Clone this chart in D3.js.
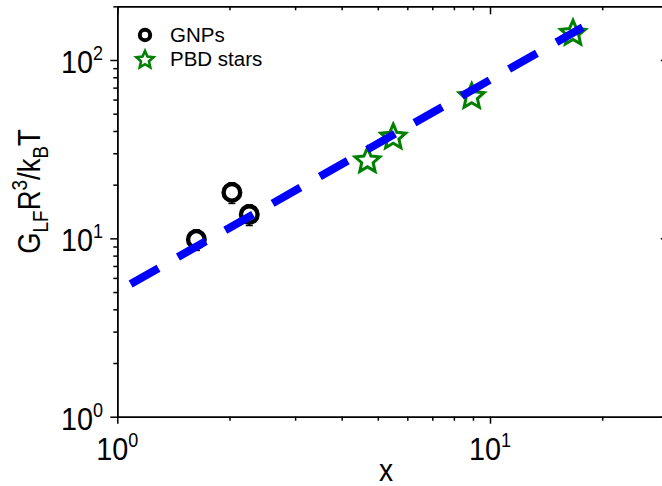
<!DOCTYPE html>
<html>
<head>
<meta charset="utf-8">
<script src="https://cdn.jsdelivr.net/npm/d3@7"></script>
<style>
  body { margin: 0; background: #fff; }
  text { font-family: "Liberation Sans", Arial, sans-serif; fill: #000; }
</style>
</head>
<body>
<div class="chart"></div>
<script>
// Data
var gnpX = [1.63, 2.03, 2.26];
var gnpY = [9.86, 18.1, 13.6];
var gnpErr = [1.3, 2.4, 1.8];

var starX = [4.69, 5.50, 8.93, 16.7];
var starY = [27.2, 36.9, 62.3, 141];

// dashed fit line, two end points
var fitX = [1.086, 17.73];
var fitY = [5.55, 152.6];

var xDomain = [1, 30];
var yDomain = [1, 200];
var xMajor = [1, 10];
var xMinor = [2, 3, 4, 5, 6, 7, 8, 9, 20, 30];
var yMajor = [1, 10, 100];
var yMinor = [2, 3, 4, 5, 6, 7, 8, 9, 20, 30, 40, 50, 60, 70, 80, 90, 200];
var xTickExp = ["0", "1"];
var yTickExp = ["0", "1", "2"];
var legendLabels = ["GNPs", "PBD stars"];

var svgWidth = 662;
var svgHeight = 486;

var svg = d3.select(".chart")
  .append("svg")
  .attr("width", svgWidth)
  .attr("height", svgHeight);

// Step 1: scales (one decade = 372.7px on x, 178.35px on y)
var xLogScale = d3.scaleLog()
  .domain(xDomain)
  .range([117.3, 117.3 + 372.7 * Math.log10(xDomain[1])]);

var yLogScale = d3.scaleLog()
  .domain(yDomain)
  .range([416.7, 416.7 - 178.35 * Math.log10(yDomain[1])]);

var x0 = xLogScale.range()[0], x1 = xLogScale.range()[1];
var y0 = yLogScale.range()[0], y1 = yLogScale.range()[1];

// Step 2: axes, major and minor ticks on all four sides
function addAxis(axis, transform) {
  var g = svg.append("g")
    .attr("transform", transform)
    .call(axis);
  g.selectAll("path, line").attr("stroke", "#000").attr("stroke-width", 1.5);
  g.selectAll("text").remove();
  return g;
}
var noLabel = function() { return ""; };

addAxis(d3.axisBottom(xLogScale).tickValues(xMajor).tickSizeInner(7).tickSizeOuter(0).tickFormat(noLabel), `translate(0, ${y0})`);
addAxis(d3.axisBottom(xLogScale).tickValues(xMinor).tickSizeInner(4).tickSizeOuter(0).tickFormat(noLabel), `translate(0, ${y0})`);
addAxis(d3.axisTop(xLogScale).tickValues(xMajor).tickSizeInner(-8).tickSizeOuter(0).tickFormat(noLabel), `translate(0, ${y1})`);
addAxis(d3.axisTop(xLogScale).tickValues(xMinor).tickSizeInner(-4).tickSizeOuter(0).tickFormat(noLabel), `translate(0, ${y1})`);
addAxis(d3.axisLeft(yLogScale).tickValues(yMajor).tickSizeInner(7).tickSizeOuter(0).tickFormat(noLabel), `translate(${x0}, 0)`);
addAxis(d3.axisLeft(yLogScale).tickValues(yMinor).tickSizeInner(4).tickSizeOuter(0).tickFormat(noLabel), `translate(${x0}, 0)`);
addAxis(d3.axisRight(yLogScale).tickValues(yMajor).tickSizeInner(-7).tickSizeOuter(0).tickFormat(noLabel), `translate(${x1}, 0)`);
addAxis(d3.axisRight(yLogScale).tickValues(yMinor).tickSizeInner(-4).tickSizeOuter(0).tickFormat(noLabel), `translate(${x1}, 0)`);

// tick labels 10^n (font is a narrow sans, so squeeze it a bit)
function powerLabel(xPos, yPos, anchor, exp) {
  var t = svg.append("g")
    .attr("transform", `translate(${xPos}, ${yPos}) scale(0.9, 1)`)
    .append("text")
    .attr("text-anchor", anchor)
    .style("font-size", "32px");
  t.append("tspan").text("10");
  t.append("tspan").attr("dy", -13).style("font-size", "20px").text(exp);
}
xMajor.forEach(function(v, i) { powerLabel(xLogScale(v), y0 + 43.3, "middle", xTickExp[i]); });
yMajor.forEach(function(v, i) { powerLabel(103, yLogScale(v) + 12.8, "end", yTickExp[i]); });

// Step 3: axis titles
var yTitle = svg.append("g")
  .attr("transform", "translate(40, 191.5) rotate(-90) scale(0.86, 1)")
  .append("text")
  .attr("text-anchor", "middle")
  .style("font-size", "32px");
yTitle.append("tspan").text("G");
yTitle.append("tspan").attr("dy", 8).style("font-size", "22px").text("LF");
yTitle.append("tspan").attr("dy", -8).text("R");
yTitle.append("tspan").attr("dy", -13).style("font-size", "22px").text("3");
yTitle.append("tspan").attr("dy", 13).text("/k");
yTitle.append("tspan").attr("dy", 8).style("font-size", "22px").text("B");
yTitle.append("tspan").attr("dy", -8).text("T");

svg.append("g")
  .attr("transform", `translate(386, 481) scale(0.88, 1)`)
  .append("text")
  .attr("text-anchor", "middle")
  .style("font-size", "32px")
  .text("x");

// Step 4: GNPs with error bars
var gnpData = gnpX.map(function(d, i) { return {x: d, y: gnpY[i], e: gnpErr[i]}; });

var errGroup = svg.append("g").attr("stroke", "#000").attr("stroke-width", 1.5);
gnpData.forEach(function(d) {
  var cx = xLogScale(d.x);
  var top = yLogScale(d.y + d.e), bot = yLogScale(d.y - d.e);
  errGroup.append("line").attr("x1", cx).attr("x2", cx).attr("y1", top).attr("y2", bot);
  errGroup.append("line").attr("x1", cx - 3.5).attr("x2", cx + 3.5).attr("y1", top).attr("y2", top);
  errGroup.append("line").attr("x1", cx - 3.5).attr("x2", cx + 3.5).attr("y1", bot).attr("y2", bot);
});

svg.append("g").selectAll("circle")
  .data(gnpData)
  .enter()
  .append("circle")
  .attr("cx", d => xLogScale(d.x))
  .attr("cy", d => yLogScale(d.y))
  .attr("r", 8.3)
  .attr("fill", "#fff")
  .attr("stroke", "#000")
  .attr("stroke-width", 4.4);

// Step 5: PBD stars
function starPath(R, r) {
  var pts = [];
  for (var i = 0; i < 10; i++) {
    var a = (-90 + i * 36) * Math.PI / 180;
    var rad = i % 2 ? r : R;
    pts.push([rad * Math.cos(a), rad * Math.sin(a)]);
  }
  return "M" + pts.join("L") + "Z";
}

var starData = starX.map(function(d, i) { return {x: d, y: starY[i]}; });

svg.append("g").selectAll("path")
  .data(starData)
  .enter()
  .append("path")
  .attr("d", starPath(13, 6))
  .attr("transform", d => `translate(${xLogScale(d.x)}, ${yLogScale(d.y)})`)
  .attr("fill", "#fff")
  .attr("stroke", "#008000")
  .attr("stroke-width", 3);

// Step 6: dashed blue fit line on top
var fitLine = d3.line()
  .x(d => xLogScale(d[0]))
  .y(d => yLogScale(d[1]));

svg.append("path")
  .datum(fitX.map(function(d, i) { return [d, fitY[i]]; }))
  .attr("d", fitLine)
  .attr("fill", "none")
  .attr("stroke", "#0000ff")
  .attr("stroke-width", 8)
  .attr("stroke-dasharray", "32,22.4");

// Step 7: legend
var legend = svg.append("g");
legend.append("circle")
  .attr("cx", 145).attr("cy", 35).attr("r", 5.2)
  .attr("fill", "#fff").attr("stroke", "#000").attr("stroke-width", 4);
legend.append("path")
  .attr("d", starPath(9, 4.2))
  .attr("transform", "translate(145, 60)")
  .attr("fill", "#fff").attr("stroke", "#008000").attr("stroke-width", 2.6);

legendLabels.forEach(function(label, i) {
  legend.append("text")
    .attr("x", 170)
    .attr("y", 41.8 + i * 24.5)
    .style("font-size", "20.5px")
    .text(label);
});
</script>
</body>
</html>
